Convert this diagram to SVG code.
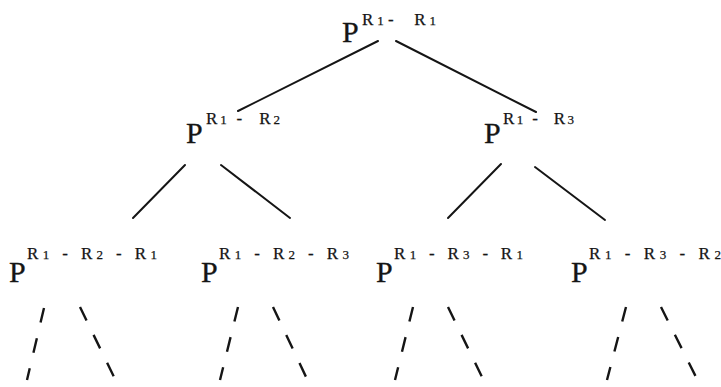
<svg xmlns="http://www.w3.org/2000/svg" width="721" height="387" viewBox="0 0 721 387">
<style>
.p{font-family:"Liberation Serif","Times New Roman",serif;font-size:30px;fill:#151515;stroke:#151515;stroke-width:0.3}
.s{font-family:"Liberation Serif","Times New Roman",serif;font-size:17px;fill:#151515;stroke:#151515;stroke-width:0.25}
.d{font-size:13px}
.e{stroke:#151515;stroke-width:2;fill:none;stroke-linecap:round}
.dash{stroke:#151515;stroke-width:2.4;fill:none;stroke-dasharray:15 16}
</style>
<rect width="721" height="387" fill="#ffffff"/>
<g id="connectors">
<line class="e" x1="378" y1="41" x2="238" y2="111"/>
<line class="e" x1="396" y1="41" x2="536" y2="112"/>
<line class="e" x1="185" y1="165" x2="133" y2="218"/>
<line class="e" x1="221" y1="165" x2="290" y2="218"/>
<line class="e" x1="501" y1="164" x2="448" y2="218"/>
<line class="e" x1="535" y1="167" x2="605" y2="220"/>
<line class="dash" x1="44" y1="308" x2="27" y2="380"/>
<line class="dash" x1="80" y1="307" x2="115" y2="379"/>
<line class="dash" x1="238" y1="307" x2="220" y2="380"/>
<line class="dash" x1="273" y1="307" x2="307" y2="379"/>
<line class="dash" x1="413" y1="307" x2="395" y2="380"/>
<line class="dash" x1="448" y1="307" x2="483" y2="379"/>
<line class="dash" x1="626" y1="307" x2="607" y2="380"/>
<line class="dash" x1="661" y1="307" x2="697" y2="379"/>
</g>
<g id="n-root">
<text class="p" x="342" y="42">P</text>
<text class="s" x="362" y="25" textLength="74" lengthAdjust="spacing" xml:space="preserve">R<tspan class="d">1</tspan>-  R<tspan class="d">1</tspan></text>
</g>
<g id="n-r1r2">
<text class="p" x="186" y="143">P</text>
<text class="s" x="206" y="124" textLength="74" lengthAdjust="spacing" xml:space="preserve">R<tspan class="d">1</tspan> -  R<tspan class="d">2</tspan></text>
</g>
<g id="n-r1r3">
<text class="p" x="484" y="143">P</text>
<text class="s" x="503" y="124" textLength="71" lengthAdjust="spacing" xml:space="preserve">R<tspan class="d">1</tspan> -  R<tspan class="d">3</tspan></text>
</g>
<g id="n-r1r2r1">
<text class="p" x="9" y="282">P</text>
<text class="s" x="27" y="259" textLength="130" lengthAdjust="spacing" xml:space="preserve">R<tspan class="d">1</tspan> - R<tspan class="d">2</tspan> - R<tspan class="d">1</tspan></text>
</g>
<g id="n-r1r2r3">
<text class="p" x="201" y="282">P</text>
<text class="s" x="219" y="259" textLength="130" lengthAdjust="spacing" xml:space="preserve">R<tspan class="d">1</tspan> - R<tspan class="d">2</tspan> - R<tspan class="d">3</tspan></text>
</g>
<g id="n-r1r3r1">
<text class="p" x="376" y="282">P</text>
<text class="s" x="394" y="259" textLength="129" lengthAdjust="spacing" xml:space="preserve">R<tspan class="d">1</tspan> - R<tspan class="d">3</tspan> - R<tspan class="d">1</tspan></text>
</g>
<g id="n-r1r3r2">
<text class="p" x="571" y="282">P</text>
<text class="s" x="589" y="259" textLength="132" lengthAdjust="spacing" xml:space="preserve">R<tspan class="d">1</tspan> - R<tspan class="d">3</tspan> - R<tspan class="d">2</tspan></text>
</g>
</svg>
